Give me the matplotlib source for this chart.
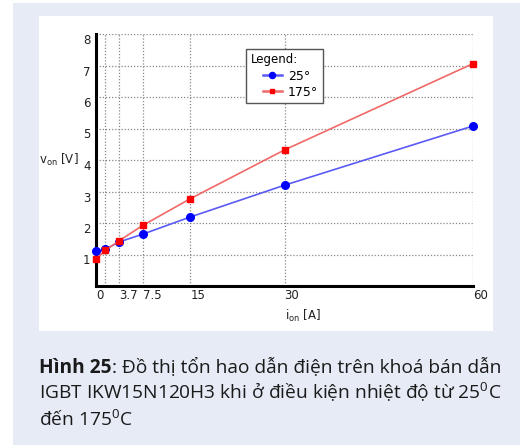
import matplotlib
matplotlib.use('agg')
import matplotlib.pyplot as plt
from matplotlib.patches import Rectangle
from matplotlib.legend_handler import HandlerLine2D

# current i_on [A] and on-state voltage v_on [V]
i_on = [0, 1.5, 3.7, 7.5, 15, 30, 60]
v_25 = [1.10, 1.17, 1.40, 1.65, 2.19, 3.20, 5.08]
v_175 = [0.85, 1.13, 1.44, 1.93, 2.77, 4.32, 7.06]
xtick_labels = ['0', '', '3.7', '7.5', '15', '30', '60']
yticks = [1, 2, 3, 4, 5, 6, 7, 8]
series_names = ['25°', '175°']

plt.rcParams['mathtext.fontset'] = 'custom'
plt.rcParams['mathtext.rm'] = 'Open Sans'
plt.rcParams['mathtext.bf'] = 'Open Sans:bold'

W, H = 520, 446
fig = plt.figure(figsize=(W / 100, H / 100), dpi=100)
fig.patch.set_facecolor('white')

# light blue card and white chart panel
fig.add_artist(Rectangle((13 / W, 1 - 445 / H), 507 / W, 442 / H, transform=fig.transFigure,
                         facecolor='#e6ebf5', edgecolor='none', zorder=0))
fig.add_artist(Rectangle((39 / W, 1 - 331 / H), 454 / W, 315 / H, transform=fig.transFigure,
                         facecolor='white', edgecolor='none', zorder=0))

ax = fig.add_axes([96 / W, 1 - 286 / H, 377 / W, 252 / H])
ax.set_facecolor('none')
l1, = ax.plot(i_on, v_25, color='#5a5af5', lw=1.2, marker='o', ms=5.5,
              mfc='#0000ff', mec='#0000ff', label=series_names[0], clip_on=False, zorder=3)
l2, = ax.plot(i_on, v_175, color='#f06868', lw=1.2, marker='s', ms=4.2,
              mfc='#ff0000', mec='#ff0000', label=series_names[1], clip_on=False, zorder=3)

ax.set_xlim(0, 60)
ax.set_ylim(0, 8)
ax.set_xticks(i_on)
ax.set_xticklabels(xtick_labels, fontsize=8.5, ha='left', color='#222222')
ax.set_yticks(yticks)
ax.set_yticklabels([str(v) for v in yticks], fontsize=8.5, va='top', color='#222222')
ax.tick_params(length=0)
ax.tick_params(axis='x', pad=2)
ax.tick_params(axis='y', pad=4)
ax.grid(True, linestyle=(0, (1, 1.5)), color='#888888', lw=0.9)
for s in ['top', 'right']:
    ax.spines[s].set_visible(False)
for s in ['left', 'bottom']:
    ax.spines[s].set_linewidth(2.2)
    ax.spines[s].set_color('black')

fig.text(79 / W, 1 - 160 / H, r'v$_{\mathrm{on}}$ [V]', ha='right', va='center',
         fontsize=8.5, color='#222222', math_fontfamily='dejavusans')
fig.text(303 / W, 1 - 316 / H, r'i$_{\mathrm{on}}$ [A]', ha='center', va='center',
         fontsize=8.5, color='#222222', math_fontfamily='dejavusans')

hmap = {l1: HandlerLine2D(xpad=1.0), l2: HandlerLine2D(xpad=1.0)}
leg = ax.legend(title='Legend:', loc='upper left', bbox_to_anchor=(0.398, 0.94),
                borderaxespad=0, fontsize=9, title_fontsize=8.5, fancybox=False,
                edgecolor='#555555', framealpha=1, borderpad=0.35, handlelength=2.5,
                handletextpad=0.5, labelspacing=0.25, alignment='left',
                markerscale=0.8, handler_map=hmap)
leg.get_frame().set_linewidth(1.0)
for ln in leg.get_lines():
    ln.set_linewidth(1.8)

# caption
cap_kw = dict(fontsize=13.8, color='#1a1a1a', family=['Open Sans', 'DejaVu Sans'],
              math_fontfamily='custom', va='baseline', ha='left')
t1 = fig.text(39 / W, 1 - 373 / H, 'Hình 25', fontweight='bold', **cap_kw)
fig.canvas.draw()
bb = t1.get_window_extent()
fig.text(bb.x1 / W, 1 - 373 / H, ': Đồ thị tổn hao dẫn điện trên khoá bán dẫn', **cap_kw)
fig.text(39 / W, 1 - 399 / H, r'IGBT IKW15N120H3 khi ở điều kiện nhiệt độ từ 25$^{\mathrm{0}}$C', **cap_kw)
fig.text(39 / W, 1 - 426 / H, r'đến 175$^{\mathrm{0}}$C', **cap_kw)

fig.savefig('out.png', dpi=100)
